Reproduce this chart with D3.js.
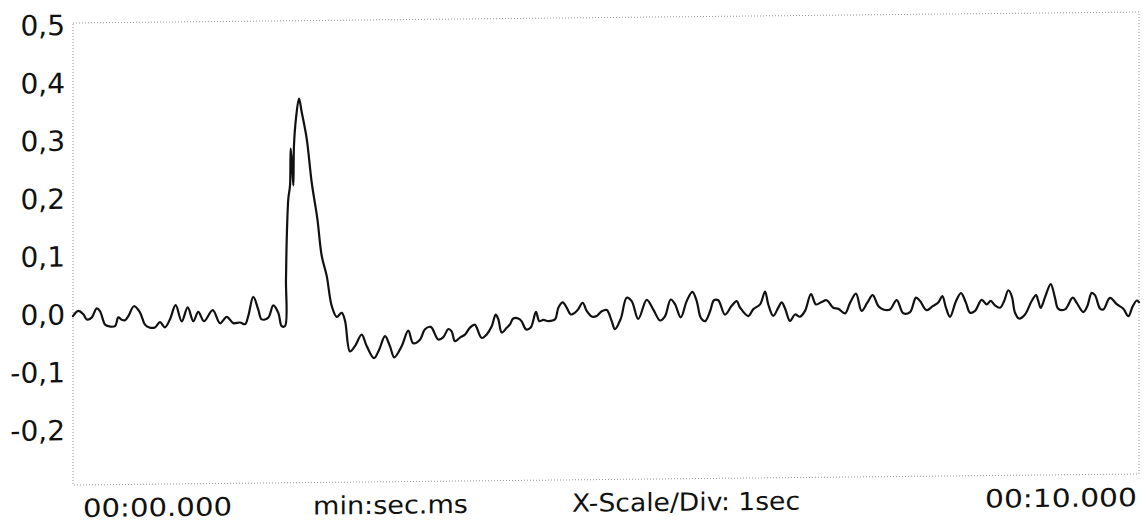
<!DOCTYPE html>
<html>
<head>
<meta charset="utf-8">
<script src="https://cdn.jsdelivr.net/npm/d3@7"></script>
<style>
  html, body { margin: 0; padding: 0; background: #fff; }
  svg { display: block; }
  text { font-family: "DejaVu Sans", Verdana, sans-serif; fill: #111; }
</style>
</head>
<body>
<svg id="chart" width="1147" height="523"></svg>
<script>
// ---- data (time in seconds, value) ----
const samples = [[0.000,-0.003],[0.050,0.006],[0.097,0.000],[0.129,-0.009],[0.175,-0.006],[0.222,0.010],[0.253,0.005],[0.300,-0.018],[0.331,-0.021],[0.394,-0.021],[0.425,-0.006],[0.457,-0.010],[0.488,-0.011],[0.519,-0.004],[0.572,0.013],[0.629,0.002],[0.675,-0.019],[0.716,-0.024],[0.769,-0.024],[0.816,-0.015],[0.863,-0.024],[0.910,-0.010],[0.963,0.014],[1.020,-0.014],[1.076,0.010],[1.129,-0.014],[1.175,0.002],[1.229,-0.014],[1.311,0.005],[1.379,-0.018],[1.442,-0.007],[1.504,-0.018],[1.567,-0.017],[1.614,-0.020],[1.644,-0.006],[1.691,0.027],[1.738,0.005],[1.770,-0.012],[1.832,-0.009],[1.879,0.012],[1.926,-0.001],[1.958,-0.024],[1.989,-0.024],[1.998,0.057],[2.005,0.126],[2.020,0.196],[2.036,0.219],[2.042,0.283],[2.057,0.248],[2.067,0.219],[2.073,0.288],[2.092,0.335],[2.120,0.369],[2.145,0.346],[2.192,0.300],[2.239,0.224],[2.292,0.161],[2.333,0.097],[2.380,0.062],[2.427,0.010],[2.474,-0.009],[2.521,-0.002],[2.552,-0.016],[2.598,-0.069],[2.645,-0.060],[2.708,-0.040],[2.755,-0.060],[2.824,-0.081],[2.873,-0.066],[2.927,-0.043],[2.974,-0.061],[3.014,-0.080],[3.083,-0.061],[3.145,-0.034],[3.192,-0.056],[3.255,-0.050],[3.302,-0.032],[3.356,-0.028],[3.427,-0.050],[3.474,-0.046],[3.521,-0.032],[3.552,-0.036],[3.583,-0.053],[3.630,-0.047],[3.677,-0.042],[3.724,-0.030],[3.771,-0.025],[3.787,-0.030],[3.834,-0.048],[3.881,-0.042],[3.928,-0.028],[3.965,-0.008],[3.990,-0.016],[4.022,-0.039],[4.068,-0.031],[4.099,-0.025],[4.130,-0.015],[4.177,-0.015],[4.209,-0.020],[4.250,-0.034],[4.294,-0.031],[4.343,-0.004],[4.374,-0.020],[4.412,-0.018],[4.459,-0.020],[4.522,-0.017],[4.553,0.003],[4.594,0.012],[4.631,0.003],[4.669,-0.009],[4.709,-0.006],[4.740,0.000],[4.781,0.011],[4.819,-0.003],[4.866,-0.013],[4.913,-0.012],[4.960,-0.004],[5.007,-0.002],[5.053,-0.021],[5.084,-0.035],[5.139,-0.017],[5.194,0.019],[5.241,0.013],[5.303,-0.018],[5.382,0.015],[5.444,-0.002],[5.507,-0.021],[5.553,-0.014],[5.607,0.015],[5.647,0.007],[5.701,-0.016],[5.757,0.012],[5.810,0.028],[5.851,0.012],[5.889,-0.017],[5.929,-0.023],[5.976,-0.006],[6.013,0.013],[6.053,0.013],[6.116,-0.012],[6.179,0.003],[6.226,0.011],[6.257,0.000],[6.335,-0.015],[6.382,-0.003],[6.445,0.005],[6.492,0.027],[6.522,0.005],[6.569,-0.015],[6.616,-0.001],[6.648,0.008],[6.679,-0.002],[6.726,-0.024],[6.773,-0.013],[6.820,-0.017],[6.867,-0.007],[6.923,0.022],[6.970,0.004],[7.023,0.008],[7.070,0.011],[7.132,-0.002],[7.179,-0.004],[7.242,-0.012],[7.289,0.006],[7.345,0.022],[7.398,-0.008],[7.451,0.006],[7.502,0.019],[7.554,0.000],[7.601,-0.006],[7.664,-0.006],[7.727,0.010],[7.789,-0.013],[7.852,-0.011],[7.908,0.014],[7.946,0.008],[8.008,-0.008],[8.065,-0.001],[8.117,0.005],[8.155,0.016],[8.189,-0.004],[8.227,-0.020],[8.283,0.007],[8.330,0.021],[8.377,0.004],[8.415,-0.013],[8.462,-0.010],[8.524,0.009],[8.571,0.001],[8.609,0.007],[8.649,-0.001],[8.696,-0.005],[8.734,0.006],[8.774,0.025],[8.806,0.015],[8.837,-0.014],[8.874,-0.024],[8.931,-0.017],[8.993,0.006],[9.034,0.016],[9.055,0.006],[9.078,-0.006],[9.118,0.012],[9.172,0.035],[9.212,0.011],[9.243,-0.008],[9.306,-0.009],[9.378,0.011],[9.416,0.002],[9.478,-0.014],[9.515,-0.004],[9.556,0.019],[9.587,0.015],[9.634,-0.008],[9.665,-0.010],[9.728,0.010],[9.791,-0.001],[9.853,-0.009],[9.900,-0.022],[9.941,-0.005],[9.979,0.005],[10.000,0.002]];

const yTicks = [0.5, 0.4, 0.3, 0.2, 0.1, 0.0, -0.1, -0.2];
const yTickLabels = ["0,5", "0,4", "0,3", "0,2", "0,1", "0,0", "-0,1", "-0,2"];
const xDomain = [0, 10];
const yDomain = [-0.3, 0.5];
const xLabels = ["00:00.000", "min:sec.ms", "X-Scale/Div: 1sec", "00:10.000"];

// ---- layout ----
const svg = d3.select("#chart");
const x = d3.scaleLinear().domain(xDomain).range([73, 1139]);
const y = d3.scaleLinear().domain(yDomain).range([488, 25]);

// slight tilt as in the scanned reference
const g = svg.append("g")
  .attr("transform", "translate(73,0) skewY(-0.59) translate(-73,0)");

// dotted frame
const fTop = y(0.5) - 2, fBot = y(-0.3) - 3;
g.append("rect")
  .attr("x", x(0)).attr("y", fTop)
  .attr("width", x(10) - x(0)).attr("height", fBot - fTop)
  .attr("fill", "none")
  .attr("stroke", "#999")
  .attr("stroke-width", 1)
  .attr("stroke-dasharray", "1 2");

// y tick labels
g.selectAll("text.ylab")
  .data(yTicks)
  .join("text")
  .attr("class", "ylab")
  .attr("x", 65)
  .attr("y", d => y(d) + 10)
  .attr("text-anchor", "end")
  .attr("font-size", 28)
  .text((d, i) => yTickLabels[i]);

// x labels
const xLabPos = [
  {x: 83, w: 149},
  {x: 313, w: 155},
  {x: 572, w: 228},
  {x: 985, w: 152}
];
g.selectAll("text.xlab")
  .data(xLabels)
  .join("text")
  .attr("class", "xlab")
  .attr("x", (d, i) => xLabPos[i].x)
  .attr("y", 517)
  .attr("font-size", 25)
  .attr("textLength", (d, i) => xLabPos[i].w)
  .attr("lengthAdjust", "spacingAndGlyphs")
  .text(d => d);

// trace
const line = d3.line()
  .curve(d3.curveCatmullRom.alpha(0.5))
  .x(d => x(d[0]))
  .y(d => y(d[1]));

g.append("path")
  .datum(samples)
  .attr("d", line)
  .attr("fill", "none")
  .attr("stroke", "#111")
  .attr("stroke-width", 2.2)
  .attr("stroke-linejoin", "round")
  .attr("stroke-linecap", "round");
</script>
</body>
</html>
